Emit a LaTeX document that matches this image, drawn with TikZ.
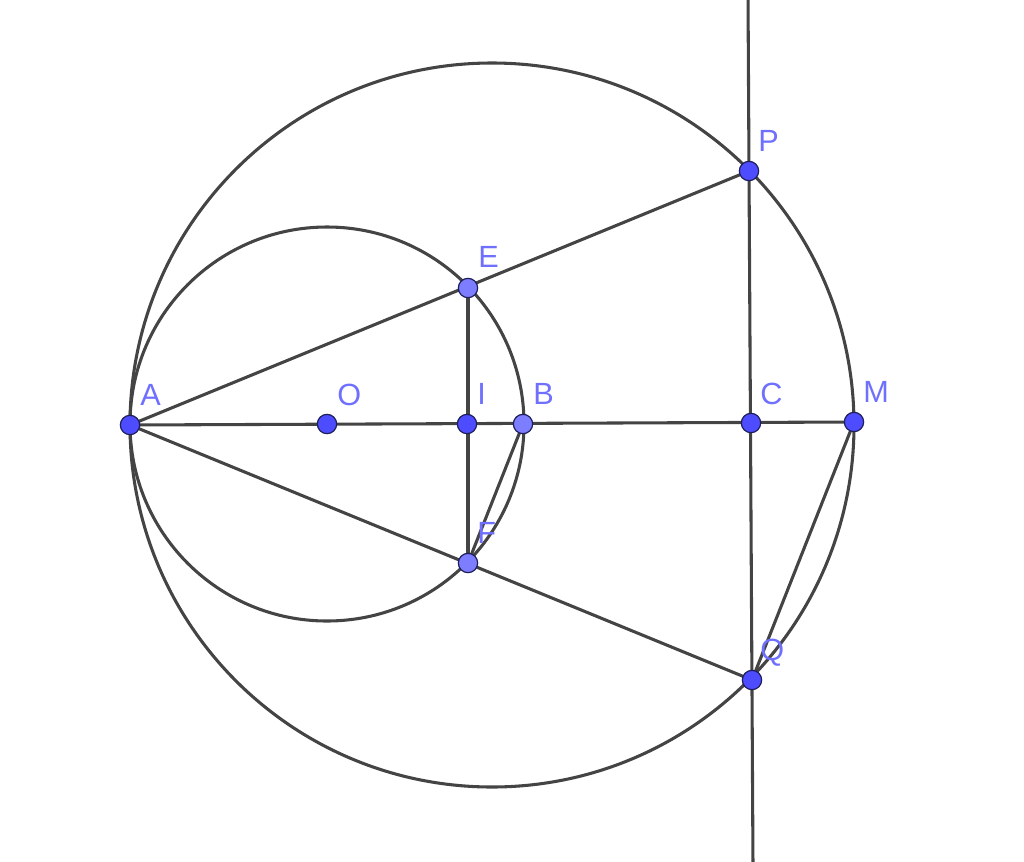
\documentclass[tikz,border=0pt]{standalone}
\usepackage{fontspec}
\setmainfont{Liberation Sans}
\definecolor{lineGray}{RGB}{68,68,68}
\definecolor{ptDark}{RGB}{77,77,255}
\definecolor{ptLight}{RGB}{125,125,255}
\definecolor{ptRim}{RGB}{30,30,90}
\definecolor{lblBlue}{RGB}{112,112,255}
\tikzset{
  seg/.style={draw=lineGray,line width=2.3pt},
  dotDark/.style={circle,fill=ptDark,draw=ptRim,line width=0.9pt,minimum size=14.5pt,inner sep=0pt},
  dotLight/.style={circle,fill=ptLight,draw=ptRim,line width=0.9pt,minimum size=14.5pt,inner sep=0pt},
  lbl/.style={anchor=base west,inner sep=0pt,text=lblBlue,font=\fontsize{23}{23}\selectfont}
}
\begin{document}
\begin{tikzpicture}[x=0.75pt,y=0.75pt,yscale=-1,xscale=1]
\useasboundingbox (0,0) rectangle (1024,861);

%Points
\coordinate (A) at (130,425);
\coordinate (O) at (327,424);
\coordinate (I) at (467,424);
\coordinate (B) at (523,424);
\coordinate (C) at (751,423);
\coordinate (M) at (854,422);
\coordinate (E) at (468,288);
\coordinate (F) at (468,563);
\coordinate (P) at (749,171);
\coordinate (Q) at (752,680);
\coordinate (top) at (748,-5);
\coordinate (bot) at (753,866);

%Shape: Circle (small)
\draw [seg] (O) circle [radius=197];
%Shape: Circle (big)
\draw [seg] (492,425) circle [radius=362];
%Straight Lines
\draw [seg] (top) -- (bot);
\draw [seg] (A) -- (M);
\draw [seg] (A) -- (P);
\draw [seg] (A) -- (Q);
\draw [seg] (E) -- (F);
\draw [seg] (B) -- (F);
\draw [seg] (M) -- (Q);

%Dots
\node [dotDark] (dA) at (A) {};
\node [dotDark] (dO) at (O) {};
\node [dotDark] (dI) at (I) {};
\node [dotLight] (dB) at (B) {};
\node [dotDark] (dC) at (C) {};
\node [dotDark] (dM) at (M) {};
\node [dotLight] (dE) at (E) {};
\node [dotLight] (dF) at (F) {};
\node [dotDark] (dP) at (P) {};
\node [dotDark] (dQ) at (Q) {};

% Text Node
\node [lbl] (tA) at (140,405) {A};
% Text Node
\node [lbl] (tO) at (337,405) {O};
% Text Node
\node [lbl] (tI) at (477,404) {I};
% Text Node
\node [lbl] (tB) at (533,404) {B};
% Text Node
\node [lbl] (tC) at (760,404) {C};
% Text Node
\node [lbl] (tM) at (863,402) {M};
% Text Node
\node [lbl] (tE) at (478,267) {E};
% Text Node
\node [lbl] (tF) at (477,543) {F};
% Text Node
\node [lbl] (tP) at (758,151) {P};
% Text Node
\node [lbl] (tQ) at (760,660) {Q};

\end{tikzpicture}
\end{document}
